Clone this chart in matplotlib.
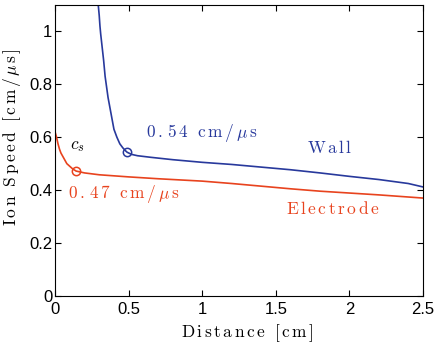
import matplotlib
matplotlib.use("Agg")
import matplotlib.pyplot as plt

plt.rcParams.update({
    "mathtext.fontset": "cm",
    "font.family": "Liberation Sans",
    "font.size": 12,
})

BLUE = "#28399c"
RED = "#e8431e"

# ── Data ──────────────────────────────────────────────────────────────────────
wall_x = [0.29, 0.30, 0.305, 0.31, 0.32, 0.33, 0.34, 0.35, 0.36, 0.37, 0.38,
          0.39, 0.40, 0.42, 0.44, 0.46, 0.48, 0.49, 0.52, 0.56, 0.65, 0.8,
          1.0, 1.2, 1.4, 1.6, 1.8, 2.0, 2.2, 2.4, 2.5]
wall_y = [1.12, 1.06, 1.02, 0.99, 0.94, 0.89, 0.83, 0.79, 0.75, 0.72, 0.69,
          0.66, 0.63, 0.60, 0.575, 0.56, 0.548, 0.543, 0.535, 0.530, 0.524, 0.515,
          0.505, 0.497, 0.487, 0.477, 0.465, 0.452, 0.440, 0.425, 0.412]

elec_x = [0.0, 0.01, 0.02, 0.03, 0.04, 0.06, 0.08, 0.10, 0.12, 0.143, 0.2,
          0.3, 0.5, 0.7, 1.0, 1.2, 1.4, 1.6, 1.8, 2.0, 2.2, 2.4, 2.5]
elec_y = [0.62, 0.60, 0.575, 0.555, 0.54, 0.52, 0.50, 0.49, 0.48, 0.472, 0.465,
          0.458, 0.450, 0.443, 0.434, 0.425, 0.415, 0.405, 0.396, 0.389, 0.382, 0.374, 0.370]

wall_mark = (0.49, 0.543)
elec_mark = (0.143, 0.472)


def spaced(s):
    """Letter-spaced Computer Modern text, like the LaTeX original."""
    parts = []
    for ch in s:
        if ch == " ":
            parts.append(r"\ ")
        elif ch == "μ":
            parts.append(r"\mu")
        else:
            parts.append(r"\mathrm{%s}" % ch)
    return "$" + r"\,".join(parts) + "$"


fig = plt.figure(figsize=(4.37, 3.47), dpi=100)
ax = fig.add_axes([0.126, 0.147, 0.842, 0.839])

ax.plot(wall_x, wall_y, color=BLUE, linewidth=1.2)
ax.plot(elec_x, elec_y, color=RED, linewidth=1.2)
ax.plot(*wall_mark, "o", mfc="none", mec=BLUE, ms=6, mew=1.1)
ax.plot(*elec_mark, "o", mfc="none", mec=RED, ms=6, mew=1.1)

fs = 12.5
ax.text(0.62, 0.615, spaced("0.54 cm/μs"), color=BLUE, fontsize=fs, va="center")
ax.text(1.71, 0.56, spaced("Wall"), color=BLUE, fontsize=fs, va="center")
ax.text(0.10, 0.565, r"$c_s$", color="black", fontsize=fs, va="center")
ax.text(0.09, 0.385, spaced("0.47 cm/μs"), color=RED, fontsize=fs, va="center")
ax.text(1.57, 0.33, spaced("Electrode"), color=RED, fontsize=fs, va="center")

ax.set_xlim(0, 2.5)
ax.set_ylim(0, 1.1)
ax.set_xticks([0, 0.5, 1, 1.5, 2, 2.5])
ax.set_xticklabels(["0", "0.5", "1", "1.5", "2", "2.5"])
ax.set_yticks([0, 0.2, 0.4, 0.6, 0.8, 1])
ax.set_yticklabels(["0", "0.2", "0.4", "0.6", "0.8", "1"])
ax.tick_params(direction="in", length=4, top=True, right=True)
ax.tick_params(axis="x", pad=4)
ax.tick_params(axis="y", pad=2)
ax.set_xlabel(spaced("Distance [cm]"), fontsize=fs)
ax.xaxis.set_label_coords(0.522, -0.09)
ax.set_ylabel(spaced("Ion Speed [cm/μs]"), fontsize=fs)
ax.yaxis.set_label_coords(-0.086, 0.546)

fig.savefig("out.png", dpi=100)
